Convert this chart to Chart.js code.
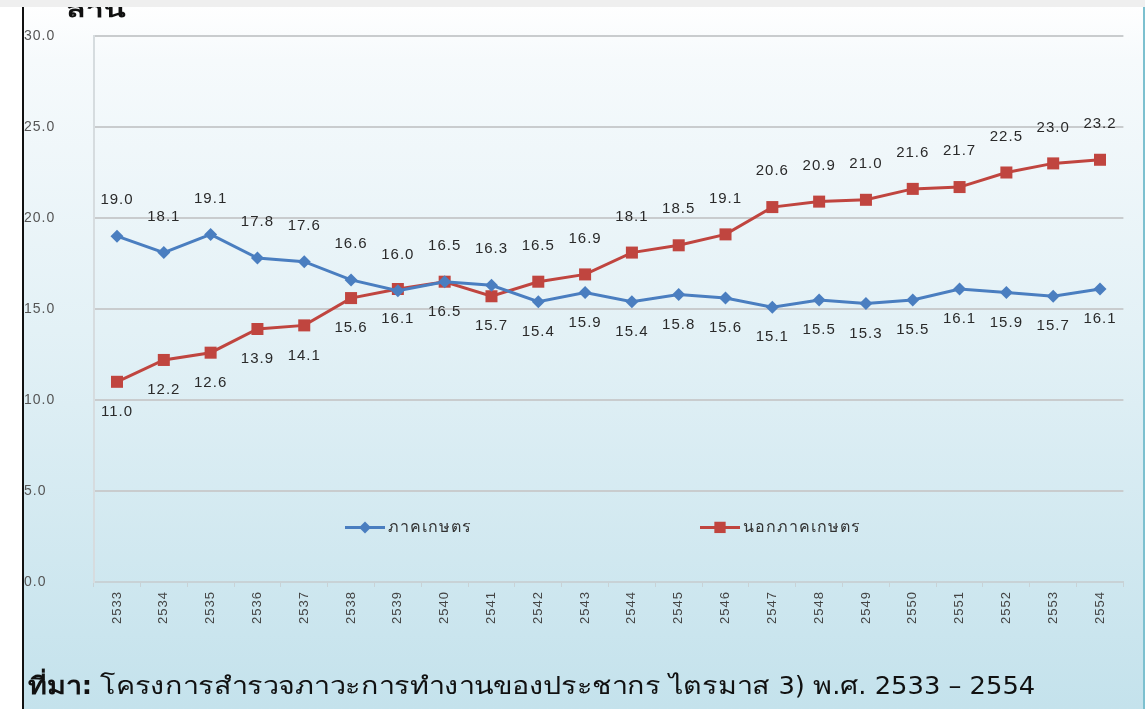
<!DOCTYPE html>
<html>
<head>
<meta charset="utf-8">
<script src="https://cdn.jsdelivr.net/npm/chart.js@4.4.1/dist/chart.umd.min.js"></script>
<style>
  html, body { margin:0; padding:0; }
  body { width:1145px; height:709px; position:relative; overflow:hidden;
         background: linear-gradient(to bottom, #ffffff 0px, #f6fafc 60px, #e3f1f6 330px, #c4e2ec 709px); }
  #topstrip { position:absolute; left:0; top:0; width:1145px; height:7px; background:#efefef; z-index:3; }
  #leftwhite { position:absolute; left:0; top:7px; width:22px; height:702px; background:#ffffff; border-right:2px solid #111; }
  #rightline { position:absolute; right:0; top:7px; width:2px; height:702px; background:#7cc0cf; }
  #wrap { position:absolute; left:0; top:0; width:1145px; height:709px; }
  #unit { position:absolute; left:66px; top:-7px; font: bold 21px "DejaVu Sans", sans-serif; color:#111; z-index:2; transform-origin:left top; transform:scaleX(1.5); }
  #source { position:absolute; left:28px; top:666px; font: 24px "DejaVu Sans Condensed", "DejaVu Sans", sans-serif; color:#111; white-space:nowrap; transform-origin: left center; }
  #source b { font-weight:bold; }
</style>
</head>
<body>
<div id="topstrip"></div>
<div id="leftwhite"></div>
<div id="rightline"></div>
<div id="unit">ล้าน</div>
<div id="wrap"><canvas id="c" width="1145" height="709"></canvas></div>
<div id="source"><b>ที่มา:</b> โครงการสำรวจภาวะการทำงานของประชากร ไตรมาส 3) พ.ศ. 2533 – 2554</div>
<script>
const years = ["2533","2534","2535","2536","2537","2538","2539","2540","2541","2542","2543","2544","2545","2546","2547","2548","2549","2550","2551","2552","2553","2554"];
const agriculture = [19.0,18.1,19.1,17.8,17.6,16.6,16.0,16.5,16.3,15.4,15.9,15.4,15.8,15.6,15.1,15.5,15.3,15.5,16.1,15.9,15.7,16.1];
const nonAgriculture = [11.0,12.2,12.6,13.9,14.1,15.6,16.1,16.5,15.7,16.5,16.9,18.1,18.5,19.1,20.6,20.9,21.0,21.6,21.7,22.5,23.0,23.2];
const seriesNames = ["ภาคเกษตร","นอกภาคเกษตร"];
const yTicks = [0,5,10,15,20,25,30];
// which series' value label sits above its point (1 = agriculture above, 0 = non-agriculture above)
const agriLabelAbove = [1,1,1,1,1,1,1,1,1,0,0,0,0,0,0,0,0,0,0,0,0,0];

const BLUE = "#4a7ec0";
const RED = "#c0453f";

// fit the source line to the width it has in the reference
const src = document.getElementById("source");
src.style.transform = "scaleX(" + (1007 / src.offsetWidth) + ")";

const spacing = {
  id: "spacing",
  beforeDraw(chart) { chart.ctx.letterSpacing = "1px"; }
};

const valueLabels = {
  id: "valueLabels",
  afterDatasetsDraw(chart) {
    const ctx = chart.ctx;
    ctx.save();
    ctx.font = "15px 'Liberation Sans', Arial, sans-serif";
    ctx.fillStyle = "#2a2a2a";
    ctx.textAlign = "center";
    ctx.textBaseline = "middle";
    const m0 = chart.getDatasetMeta(0), m1 = chart.getDatasetMeta(1);
    for (let i = 0; i < years.length; i++) {
      const blueAbove = agriLabelAbove[i] === 1;
      const pb = m0.data[i], pr = m1.data[i];
      const upOff = -36, downOff = 30;
      ctx.fillText(agriculture[i].toFixed(1), pb.x, pb.y + (blueAbove ? upOff : downOff));
      ctx.fillText(nonAgriculture[i].toFixed(1), pr.x, pr.y + (blueAbove ? downOff : upOff));
    }
    ctx.restore();
  }
};

const innerLegend = {
  id: "innerLegend",
  afterDraw(chart) {
    const ctx = chart.ctx;
    const y = chart.scales.y.getPixelForValue(3.0);
    const items = [
      {x: 345, color: BLUE, style: "rectRot", r: 6, text: seriesNames[0]},
      {x: 700, color: RED, style: "rect", r: 8, text: seriesNames[1]}
    ];
    ctx.save();
    ctx.font = "16px 'DejaVu Sans Condensed', 'DejaVu Sans', sans-serif";
    ctx.textBaseline = "middle";
    ctx.textAlign = "left";
    for (const it of items) {
      ctx.strokeStyle = it.color; ctx.lineWidth = 3;
      ctx.beginPath(); ctx.moveTo(it.x, y); ctx.lineTo(it.x + 40, y); ctx.stroke();
      ctx.fillStyle = it.color;
      Chart.helpers.drawPoint(ctx, {pointStyle: it.style, radius: it.r, borderWidth: 0}, it.x + 20, y);
      ctx.fillStyle = "#333";
      ctx.fillText(it.text, it.x + 43, y);
    }
    ctx.restore();
  }
};

new Chart(document.getElementById("c"), {
  type: "line",
  data: {
    labels: years,
    datasets: [
      { label: seriesNames[0], data: agriculture, borderColor: BLUE, backgroundColor: BLUE,
        borderWidth: 3, pointStyle: "rectRot", pointRadius: 6.5, pointBorderWidth: 0, tension: 0 },
      { label: seriesNames[1], data: nonAgriculture, borderColor: RED, backgroundColor: RED,
        borderWidth: 3, pointStyle: "rect", pointRadius: 8.5, pointBorderWidth: 0, tension: 0 }
    ]
  },
  options: {
    responsive: false,
    animation: false,
    layout: { padding: { left: 24, right: 21.6, top: 36, bottom: 0 } },
    plugins: { legend: { display: false }, tooltip: { enabled: false } },
    scales: {
      x: {
        offset: true,
        grid: { display: true, drawOnChartArea: false, drawTicks: true, offset: true,
                tickLength: 5, color: "#c8d2d6", lineWidth: 1 },
        border: { display: true, color: "#c8d2d6", width: 2 },
        ticks: { minRotation: 90, maxRotation: 90, autoSkip: false, padding: 4,
                 color: "#444", font: { size: 13, family: "'Liberation Sans', Arial, sans-serif" } },
        afterFit(s) { s.height = 127; }
      },
      y: {
        min: 0, max: 30,
        afterBuildTicks(s) { s.ticks = yTicks.map(v => ({ value: v })); },
        grid: { color: "#c9ccce", lineWidth: 2, drawTicks: false },
        border: { display: true, color: "#d6dcdf", width: 2 },
        ticks: { crossAlign: "far", padding: 0, color: "#555",
                 font: { size: 14, family: "'Liberation Sans', Arial, sans-serif" },
                 callback: v => Number(v).toFixed(1) },
        afterFit(s) { s.width = 69.6; }
      }
    }
  },
  plugins: [spacing, valueLabels, innerLegend]
});
</script>
</body>
</html>
